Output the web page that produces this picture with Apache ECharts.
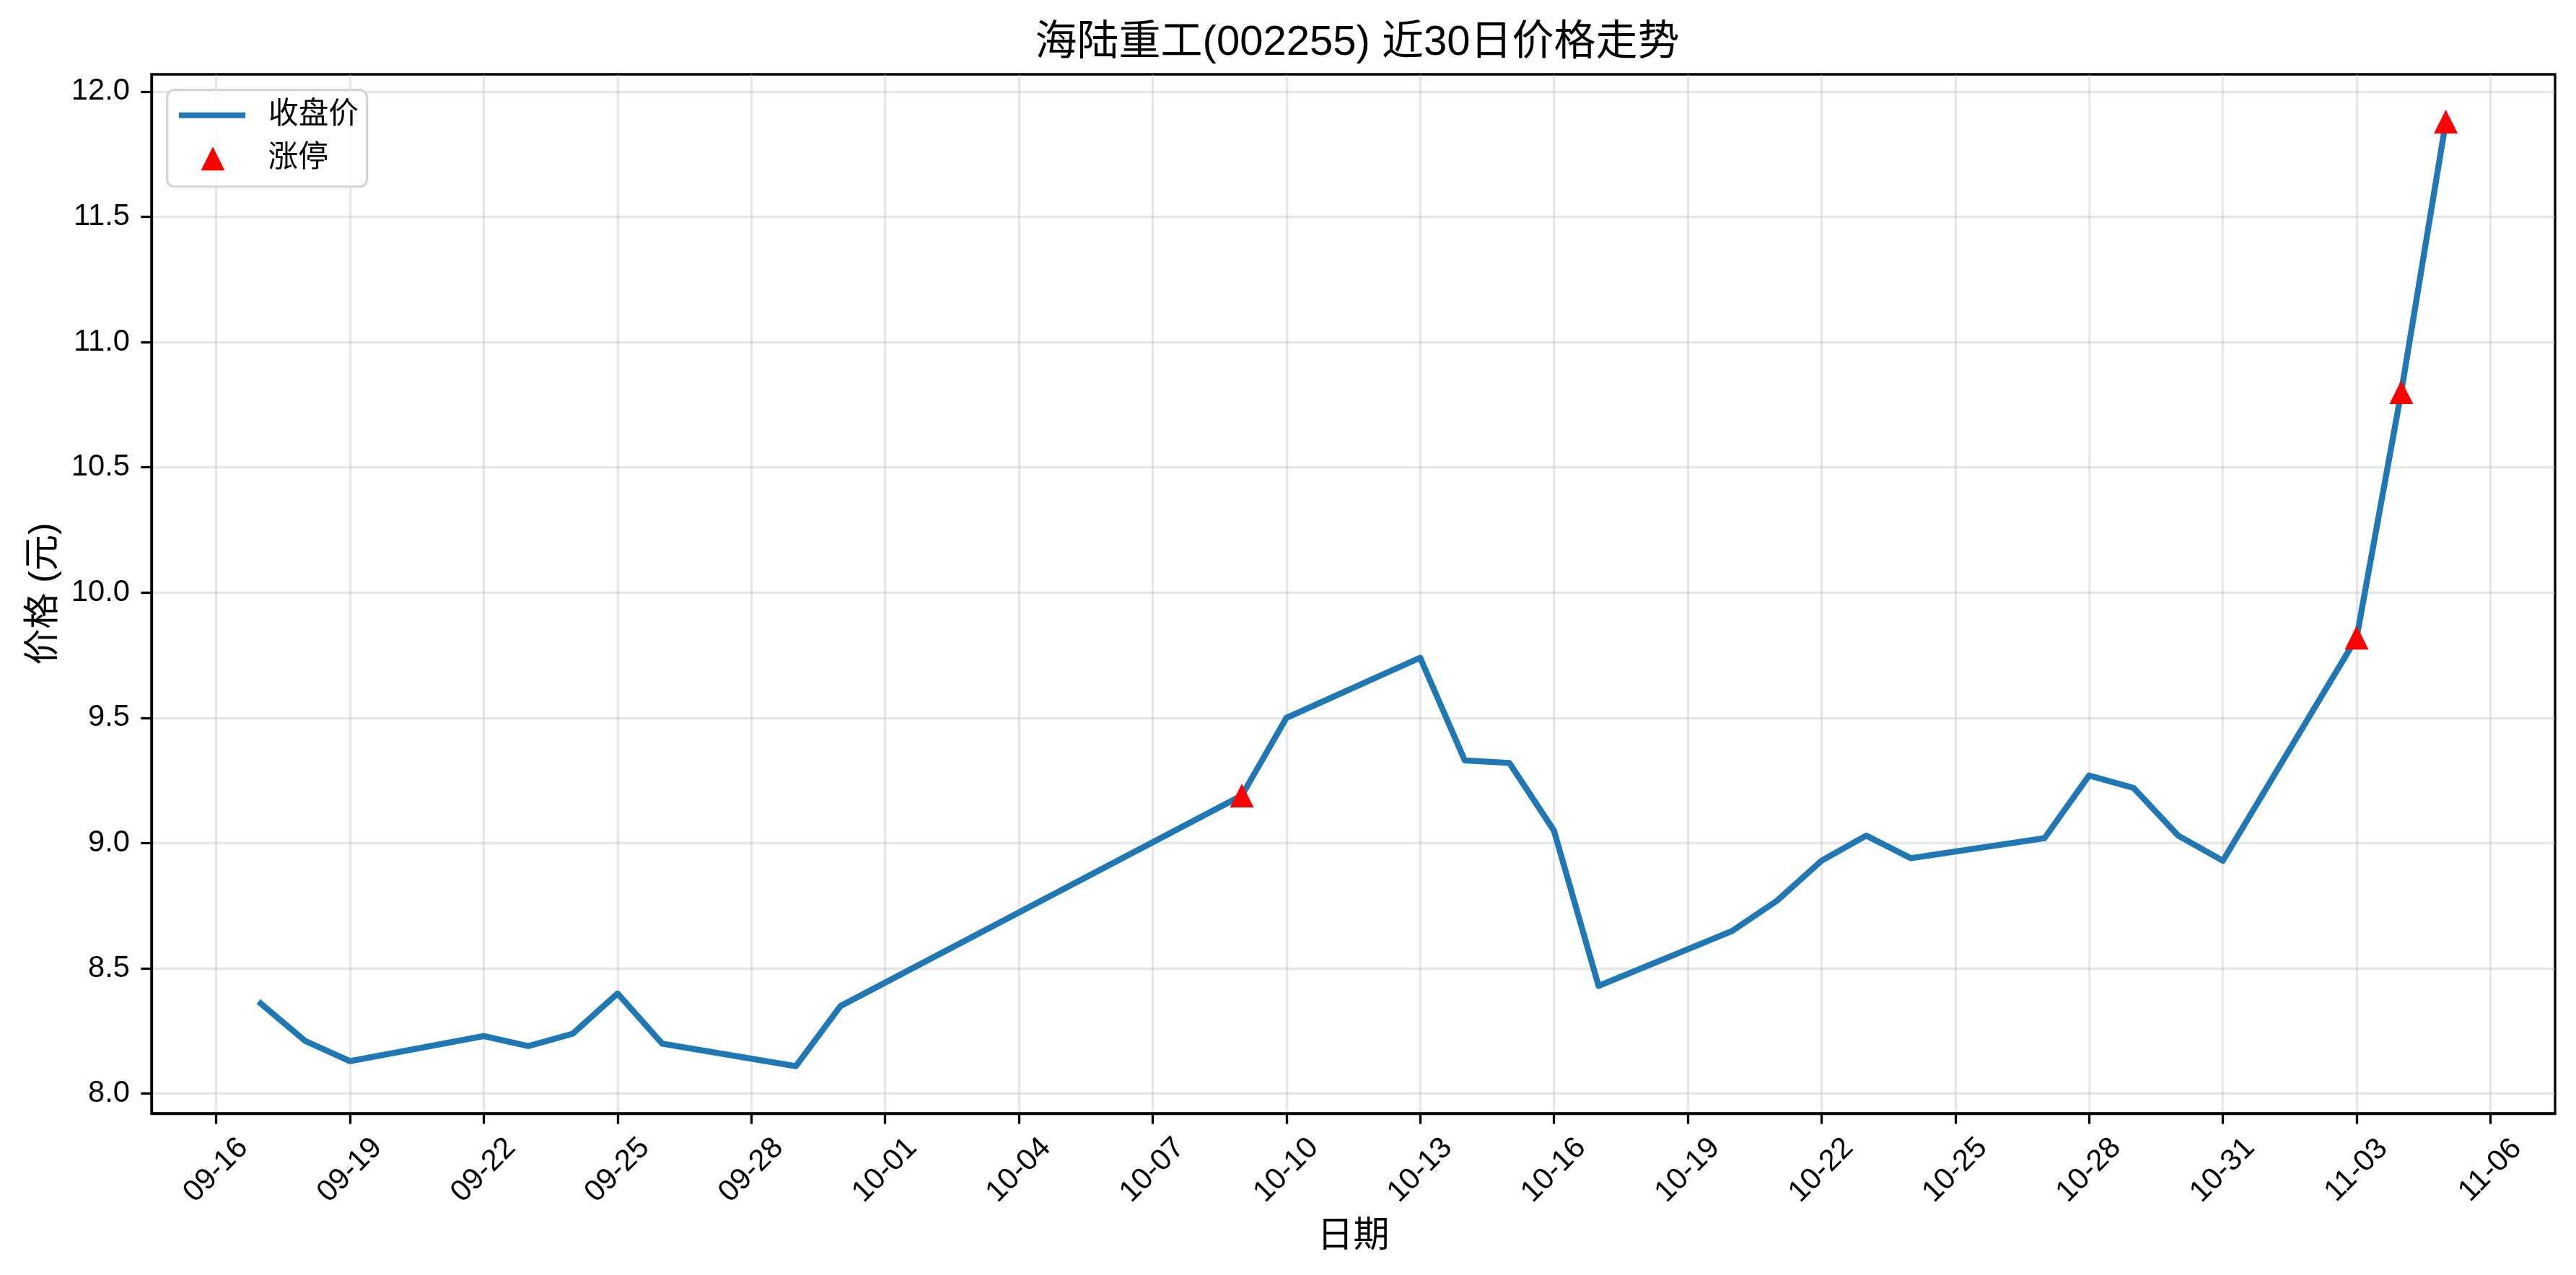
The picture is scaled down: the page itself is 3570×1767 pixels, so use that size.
<!DOCTYPE html>
<html>
<head>
<meta charset="utf-8">
<script src="https://cdn.jsdelivr.net/npm/echarts@6/dist/echarts.min.js"></script>
<style>
html,body{margin:0;padding:0;background:#fff;}
#chart{width:3570px;height:1767px;}
</style>
</head>
<body>
<div id="chart"></div>
<script>
// ---- data ----
const dates = ['09-17','09-18','09-19','09-22','09-23','09-24','09-25','09-26','09-29','09-30',
  '10-09','10-10','10-13','10-14','10-15','10-16','10-17','10-20','10-21','10-22',
  '10-23','10-24','10-27','10-28','10-29','10-30','10-31','11-03','11-04','11-05'];
const closes = [8.36,8.21,8.13,8.23,8.19,8.24,8.40,8.20,8.11,8.35,
  9.19,9.50,9.74,9.33,9.32,9.05,8.43,8.65,8.77,8.93,
  9.03,8.94,9.02,9.27,9.22,9.03,8.93,9.82,10.80,11.88];
const limitUpDates = ['10-09','11-03','11-04','11-05'];
const xTickLabels = ['09-16','09-19','09-22','09-25','09-28','10-01','10-04','10-07','10-10','10-13',
  '10-16','10-19','10-22','10-25','10-28','10-31','11-03','11-06'];
const yTicks = [8.0,8.5,9.0,9.5,10.0,10.5,11.0,11.5,12.0];
const YEAR = 2025;

// ---- helpers ----
const DAY = 86400000;
const origin = Date.UTC(YEAR, 8, 16);
function dayIdx(s){ const [m,d] = s.split('-').map(Number); return Math.round((Date.UTC(YEAR,m-1,d)-origin)/DAY); }
function fmt(v){ const dt = new Date(origin + Math.round(v)*DAY); return String(dt.getUTCMonth()+1).padStart(2,'0')+'-'+String(dt.getUTCDate()).padStart(2,'0'); }

const xs = dates.map(dayIdx);
const lineData = xs.map((x,i)=>[x, closes[i]]);
const limitData = limitUpDates.map(d=>[dayIdx(d), closes[dates.indexOf(d)]]);
const xTickVals = xTickLabels.map(dayIdx);

const xMinD = Math.min(...xs), xMaxD = Math.max(...xs);
const xPad = (xMaxD-xMinD)*0.05;
const yMinD = Math.min(...closes), yMaxD = Math.max(...closes);
const yPad = (yMaxD-yMinD)*0.05;

const FONT = '"Liberation Sans", Arial, "Noto Sans CJK SC", sans-serif';
const chart = echarts.init(document.getElementById('chart'), null, {renderer:'canvas'});
chart.setOption({
  animation:false,
  backgroundColor:'#ffffff',
  textStyle:{fontFamily:FONT},
  title:{
    text:'海陆重工(002255) 近30日价格走势',
    left:1876, top:26, textAlign:'center',
    textStyle:{fontFamily:FONT, fontSize:58, fontWeight:'normal', color:'#000'}
  },
  grid:{left:210,right:29,top:103,bottom:224,show:true,borderColor:'#000',borderWidth:3.3,backgroundColor:'transparent'},
  xAxis:{
    type:'value', min:xMinD-xPad, max:xMaxD+xPad,
    name:'日期', nameLocation:'middle', nameGap:146,
    nameTextStyle:{fontFamily:FONT,fontSize:50,color:'#000'},
    axisLine:{show:true,onZero:false,lineStyle:{color:'#000',width:3.3}},
    axisTick:{show:true,length:14.6,customValues:xTickVals,lineStyle:{color:'#000',width:3.3}},
    axisLabel:{customValues:xTickVals,formatter:v=>fmt(v),rotate:45,align:'center',verticalAlign:'middle',margin:79,
      fontFamily:FONT,fontSize:41.7,color:'#000'},
    splitLine:{show:true,lineStyle:{color:'#b0b0b0',opacity:0.3,width:3.3}}
  },
  yAxis:{
    type:'value', min:yMinD-yPad, max:yMaxD+yPad,
    name:'价格 (元)', nameLocation:'middle', nameGap:124, nameRotate:90,
    nameTextStyle:{fontFamily:FONT,fontSize:50,color:'#000'},
    axisLine:{show:true,onZero:false,lineStyle:{color:'#000',width:3.3}},
    axisTick:{show:true,length:14.6,customValues:yTicks,lineStyle:{color:'#000',width:3.3}},
    axisLabel:{customValues:yTicks,formatter:v=>v.toFixed(1),margin:30,fontFamily:FONT,fontSize:41.7,color:'#000'},
    splitLine:{show:true,lineStyle:{color:'#b0b0b0',opacity:0.3,width:3.3}}
  },
  graphic:[{
    type:'rect', left:230, top:123, z:90,
    shape:{width:277,height:134,r:10},
    style:{fill:'rgba(255,255,255,0.8)',stroke:'#d6d6d6',lineWidth:3.3}
  }],
  legend:[
    {data:[{name:'收盘价',icon:'rect'}], left:243, top:134, itemWidth:92, itemHeight:8, z:100,
     textStyle:{fontFamily:FONT,fontSize:41.7,color:'#000',padding:[0,0,0,27]}},
    {data:[{name:'涨停',icon:'triangle'}], left:273.5, top:194, itemWidth:33, itemHeight:33, z:100,
     textStyle:{fontFamily:FONT,fontSize:41.7,color:'#000',padding:[0,0,0,55]}}
  ],
  series:[
    {name:'收盘价', type:'line', data:lineData, showSymbol:false, symbol:'none', z:2,
     itemStyle:{color:'#1f77b4'},
     lineStyle:{color:'#1f77b4',width:8.33,join:'round',cap:'square'}},
    {name:'涨停', type:'scatter', data:limitData, symbol:'triangle', symbolSize:33, z:3,
     itemStyle:{color:'#ff0000',opacity:1}}
  ]
});
</script>
</body>
</html>
